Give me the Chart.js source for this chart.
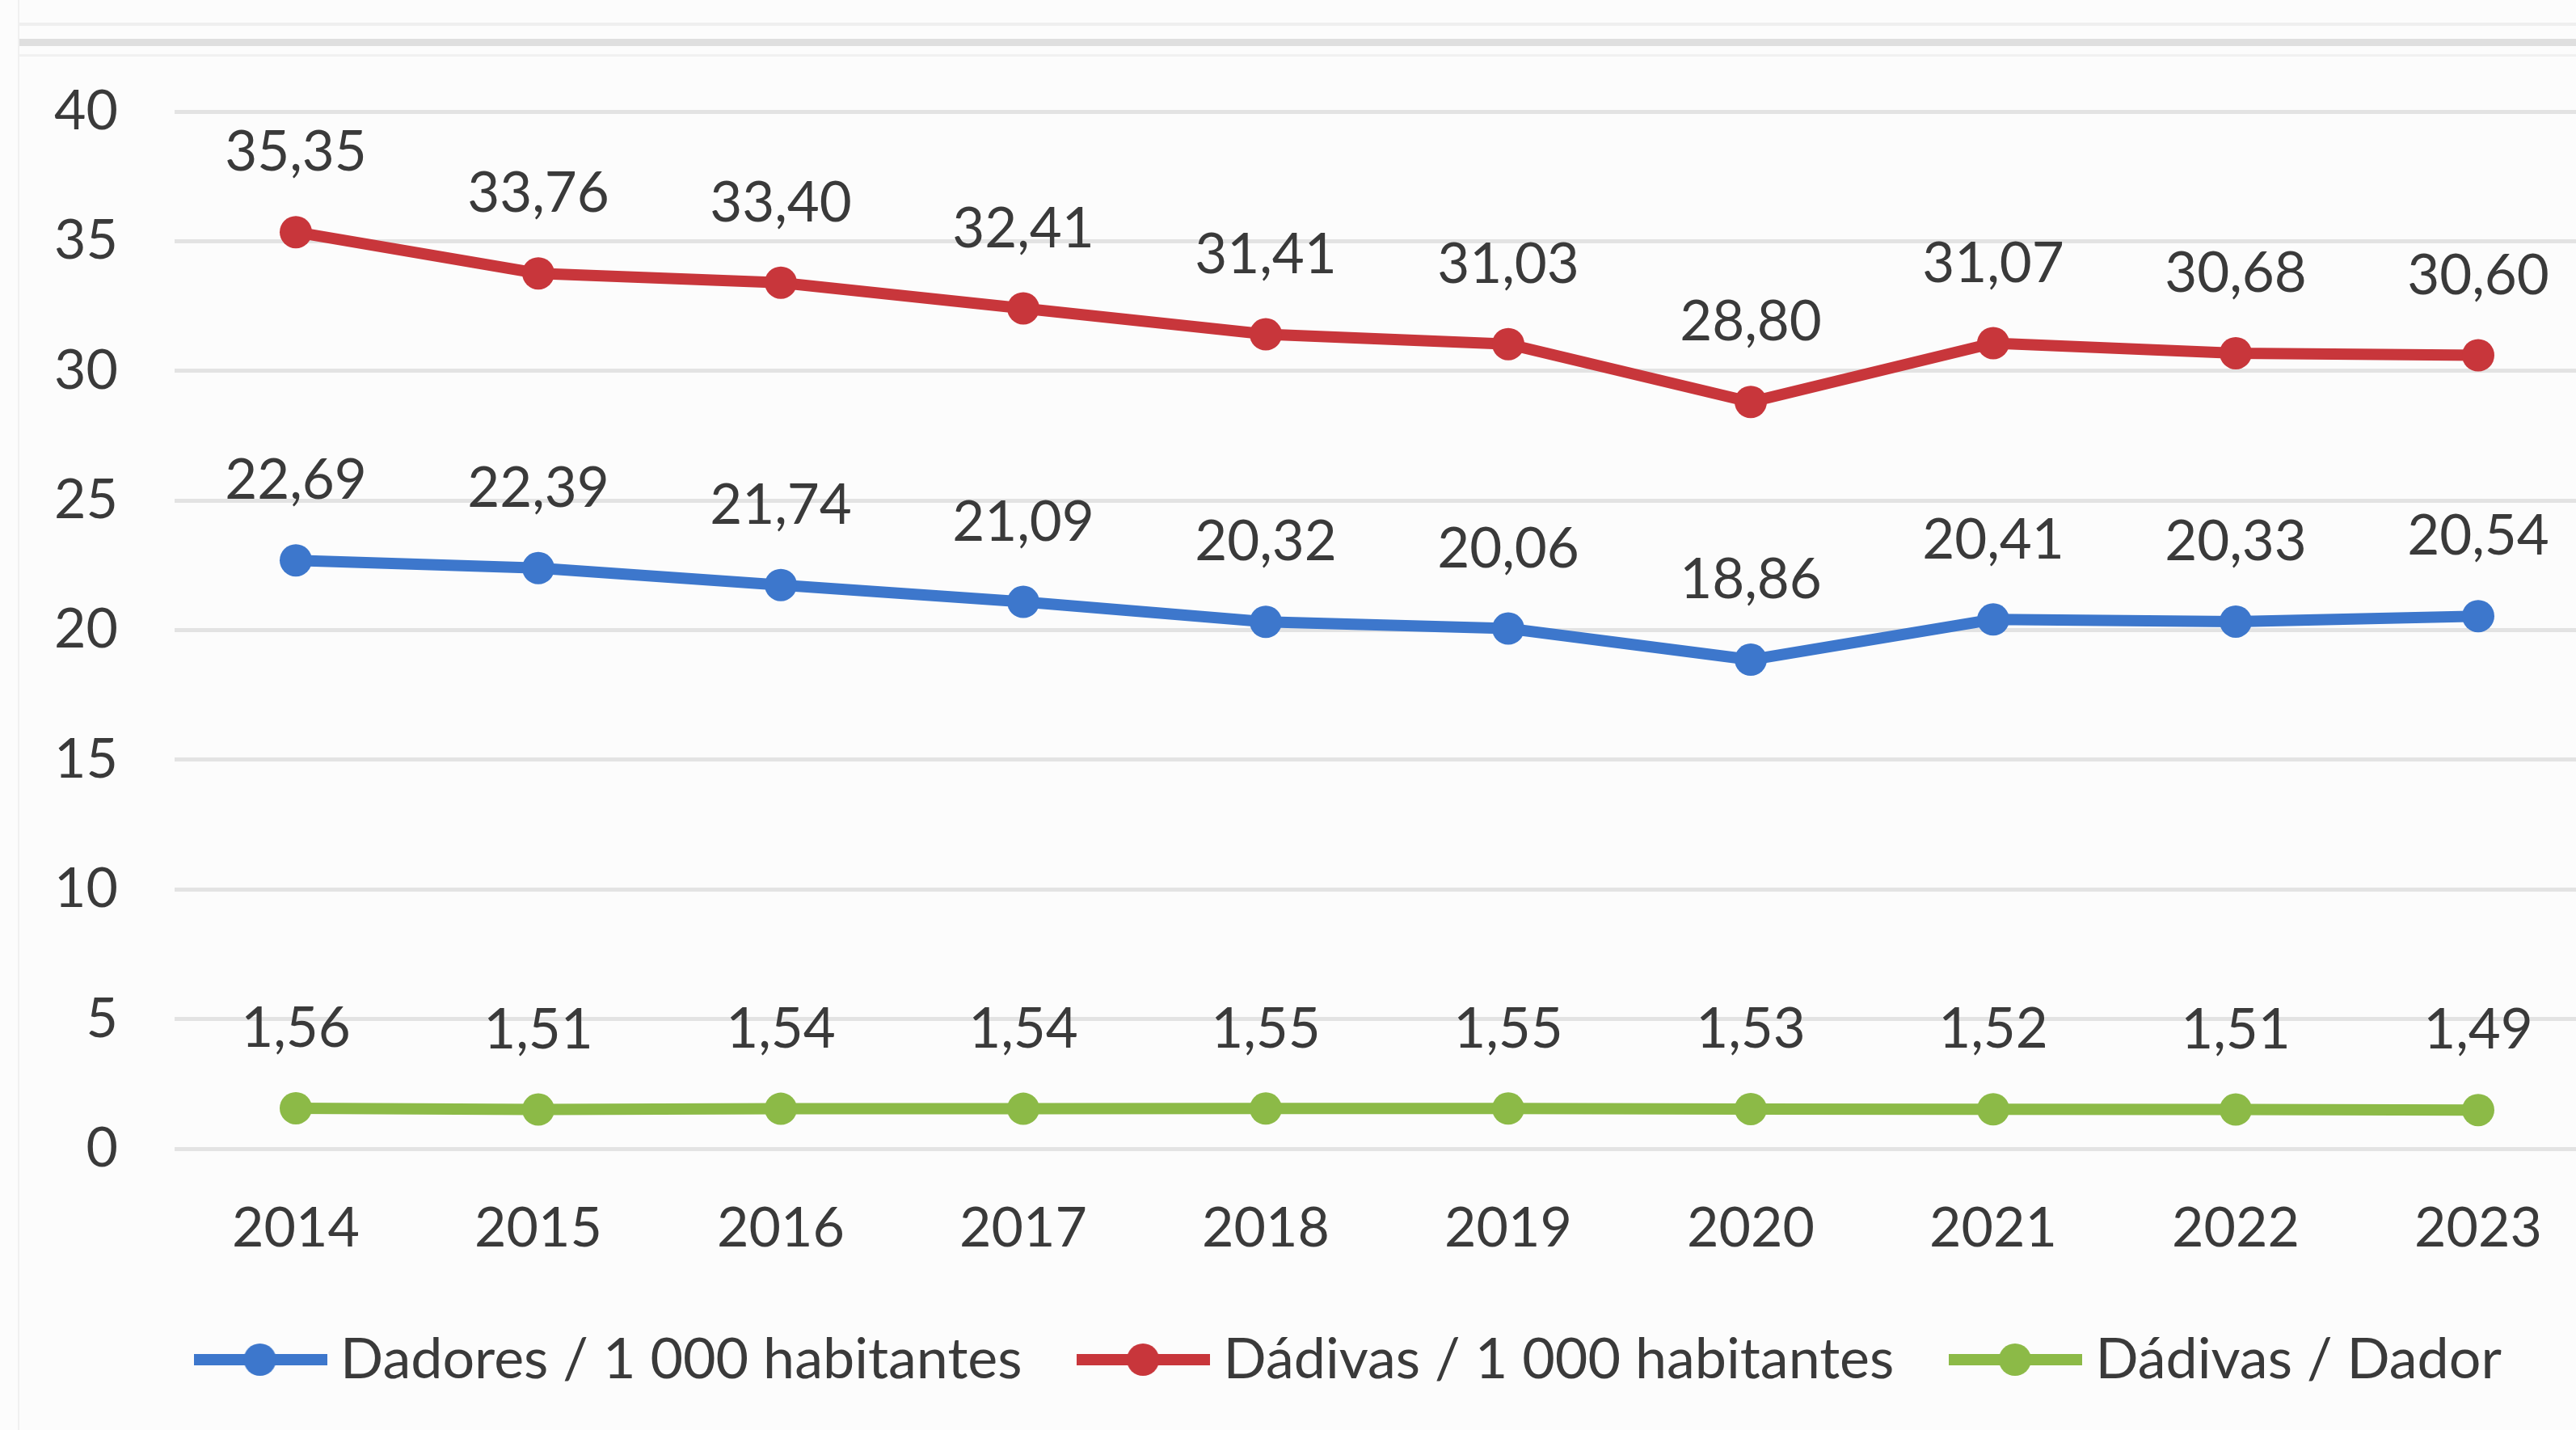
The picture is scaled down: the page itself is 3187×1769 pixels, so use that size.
<!DOCTYPE html>
<html>
<head>
<meta charset="utf-8">
<script src="https://cdn.jsdelivr.net/npm/chart.js@4.4.1/dist/chart.umd.min.js"></script>
<style>
  html, body { margin: 0; padding: 0; background: #fcfcfc; overflow: hidden; }
  #wrap { position: absolute; left: 0; top: 0; width: 3236px; height: 1769px; }
  .bar { position: absolute; left: 24px; right: 0; }
  #edge { position: absolute; left: 22px; top: 0; width: 2px; height: 1769px; background: #f0f0f0; }
</style>
</head>
<body>
<div class="bar" style="top:28px;height:4px;background:#efefef"></div>
<div class="bar" style="top:48px;height:9px;background:#dfdfdf"></div>
<div class="bar" style="top:67px;height:3px;background:#f1f1f1"></div>
<div id="edge"></div>
<div id="wrap"><canvas id="chart"></canvas></div>
<script>
const years = ["2014", "2015", "2016", "2017", "2018", "2019", "2020", "2021", "2022", "2023"];
const dadores = [22.69, 22.39, 21.74, 21.09, 20.32, 20.06, 18.86, 20.41, 20.33, 20.54];
const dadivas = [35.35, 33.76, 33.40, 32.41, 31.41, 31.03, 28.80, 31.07, 30.68, 30.60];
const dadivasPorDador = [1.56, 1.51, 1.54, 1.54, 1.55, 1.55, 1.53, 1.52, 1.51, 1.49];
const seriesNames = ["Dadores / 1 000 habitantes", "Dádivas / 1 000 habitantes", "Dádivas / Dador"];

const BLUE = "#3d77cc";
const RED = "#c8363b";
const GREEN = "#8cba47";
const FONT = "Lato";
const TEXT = "#3a3a3a";

// little line+dot icon for the legend
function legendIcon(color) {
  const c = document.createElement("canvas");
  c.width = 165;
  c.height = 44;
  const g = c.getContext("2d");
  g.strokeStyle = color;
  g.lineWidth = 14;
  g.beginPath();
  g.moveTo(0, 22);
  g.lineTo(165, 22);
  g.stroke();
  g.fillStyle = color;
  g.beginPath();
  g.arc(82, 22, 20, 0, Math.PI * 2);
  g.fill();
  return c;
}

const valueLabels = {
  id: "valueLabels",
  afterLayout(chart) {
    // legend in the original sits a bit right of centre
    chart.legend.left += 26;
    chart.legend.right += 26;
  },
  afterDatasetsDraw(chart) {
    const ctx = chart.ctx;
    ctx.save();
    ctx.font = "69px " + FONT;
    ctx.fillStyle = TEXT;
    ctx.textAlign = "center";
    ctx.textBaseline = "middle";
    chart.data.datasets.forEach(function (ds, i) {
      const meta = chart.getDatasetMeta(i);
      meta.data.forEach(function (pt, j) {
        const txt = ds.data[j].toFixed(2).replace(".", ",");
        ctx.fillText(txt, pt.x, pt.y - 98);
      });
    });
    ctx.restore();
  }
};

function line(label, data, color) {
  return {
    label: label,
    data: data,
    borderColor: color,
    backgroundColor: color,
    borderWidth: 14,
    pointRadius: 20,
    pointBorderWidth: 0,
    pointBackgroundColor: color,
    tension: 0,
    fill: false
  };
}

new Chart(document.getElementById("chart"), {
  type: "line",
  data: {
    labels: years,
    datasets: [
      line(seriesNames[0], dadores, BLUE),
      line(seriesNames[1], dadivas, RED),
      line(seriesNames[2], dadivasPorDador, GREEN)
    ]
  },
  plugins: [valueLabels],
  options: {
    responsive: true,
    maintainAspectRatio: false,
    animation: false,
    layout: { padding: { top: 138, left: 65, right: 0, bottom: 42 } },
    plugins: {
      tooltip: { enabled: false },
      legend: {
        position: "bottom",
        labels: {
          font: { family: FONT, size: 70 },
          color: TEXT,
          usePointStyle: true,
          pointStyleWidth: 128,
          padding: 86,
          generateLabels: function (chart) {
            const items = Chart.defaults.plugins.legend.labels.generateLabels(chart);
            items.forEach(function (it, i) {
              it.pointStyle = legendIcon(chart.data.datasets[i].borderColor);
            });
            return items;
          }
        }
      }
    },
    scales: {
      x: {
        offset: true,
        grid: { display: false, drawTicks: false },
        border: { display: false },
        ticks: { color: TEXT, font: { family: FONT, size: 68 }, padding: 58 },
        afterFit: function (scale) { scale.height = 140; }
      },
      y: {
        min: 0,
        max: 40,
        grid: { color: "#e3e3e3", lineWidth: 5, drawTicks: false },
        border: { display: false },
        ticks: { stepSize: 5, color: TEXT, font: { family: FONT, size: 68 }, padding: 70 },
        afterFit: function (scale) { scale.width = 151; }
      }
    }
  }
});
</script>
</body>
</html>
